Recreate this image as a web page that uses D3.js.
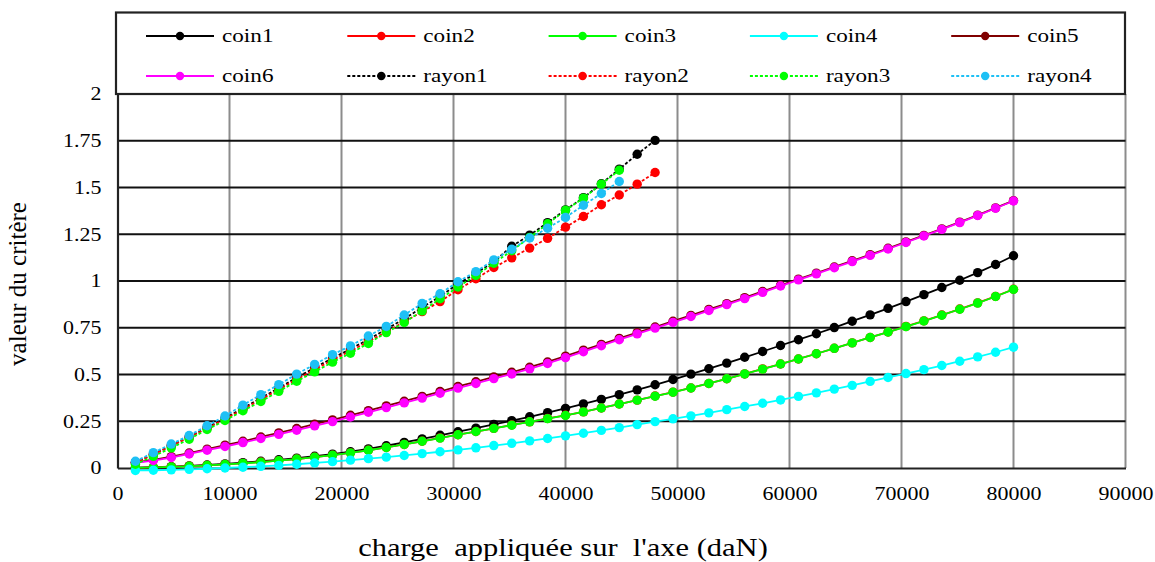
<!DOCTYPE html>
<html><head><meta charset="utf-8">
<script src="https://cdn.jsdelivr.net/npm/d3@7"></script>
<style>
html,body{margin:0;padding:0;background:#fff;}
svg{display:block;}
text{font-family:"Liberation Serif","Times New Roman",serif;fill:#000;}
</style></head>
<body>
<svg id="c" width="1155" height="562"></svg>
<script>
// ---------- data ----------
const xCoin = [1600,3200,4800,6400,8000,9600,11200,12800,14400,16000,17600,19200,20800,22400,24000,25600,27200,28800,30400,32000,33600,35200,36800,38400,40000,41600,43200,44800,46400,48000,49600,51200,52800,54400,56000,57600,59200,60800,62400,64000,65600,67200,68800,70400,72000,73600,75200,76800,78400,80000];
const xRayon = [1600,3200,4800,6400,8000,9600,11200,12800,14400,16000,17600,19200,20800,22400,24000,25600,27200,28800,30400,32000,33600,35200,36800,38400,40000,41600,43200,44800,46400,48000];

const coin1 = [0.002,0.004,0.007,0.011,0.016,0.022,0.029,0.036,0.044,0.053,0.063,0.074,0.087,0.102,0.119,0.137,0.156,0.175,0.194,0.213,0.233,0.253,0.274,0.296,0.319,0.343,0.367,0.392,0.418,0.445,0.473,0.502,0.531,0.561,0.592,0.623,0.655,0.686,0.718,0.751,0.785,0.819,0.854,0.890,0.927,0.965,1.004,1.045,1.088,1.135];
const coin2 = [0.001,0.003,0.006,0.010,0.014,0.019,0.025,0.032,0.039,0.048,0.058,0.069,0.081,0.095,0.110,0.126,0.143,0.161,0.178,0.195,0.212,0.230,0.247,0.265,0.282,0.300,0.321,0.342,0.363,0.385,0.406,0.428,0.452,0.477,0.503,0.530,0.556,0.583,0.611,0.640,0.669,0.698,0.727,0.757,0.787,0.818,0.850,0.883,0.918,0.956];
const coin3 = [0.001,0.003,0.006,0.009,0.014,0.019,0.025,0.031,0.039,0.048,0.058,0.069,0.081,0.095,0.110,0.126,0.143,0.160,0.178,0.195,0.212,0.229,0.247,0.264,0.281,0.300,0.321,0.342,0.363,0.384,0.405,0.428,0.452,0.477,0.503,0.529,0.556,0.583,0.611,0.640,0.669,0.698,0.727,0.756,0.786,0.817,0.849,0.882,0.917,0.955];
const coin4 = [-0.013,-0.012,-0.010,-0.007,-0.004,0.000,0.004,0.009,0.014,0.020,0.027,0.034,0.042,0.050,0.058,0.067,0.077,0.087,0.097,0.108,0.120,0.132,0.145,0.158,0.172,0.186,0.201,0.216,0.232,0.248,0.263,0.279,0.295,0.312,0.329,0.346,0.364,0.383,0.402,0.422,0.442,0.463,0.484,0.505,0.526,0.548,0.571,0.594,0.619,0.646];
const coin5 = [0.030,0.044,0.061,0.080,0.101,0.122,0.143,0.166,0.188,0.211,0.234,0.257,0.282,0.307,0.332,0.357,0.383,0.409,0.436,0.461,0.487,0.512,0.539,0.567,0.598,0.630,0.661,0.693,0.724,0.754,0.785,0.816,0.848,0.879,0.911,0.944,0.977,1.010,1.042,1.075,1.108,1.141,1.175,1.209,1.244,1.279,1.315,1.352,1.391,1.430];
const coin6 = [0.027,0.040,0.056,0.075,0.095,0.115,0.136,0.158,0.180,0.202,0.225,0.248,0.273,0.298,0.323,0.348,0.374,0.400,0.427,0.452,0.478,0.503,0.530,0.559,0.590,0.622,0.654,0.686,0.717,0.748,0.779,0.810,0.842,0.874,0.906,0.939,0.973,1.006,1.038,1.071,1.104,1.137,1.171,1.206,1.241,1.276,1.312,1.350,1.389,1.428];
const rayon1 = [0.030,0.074,0.120,0.166,0.216,0.266,0.320,0.374,0.428,0.484,0.536,0.588,0.636,0.688,0.742,0.798,0.858,0.918,0.984,1.042,1.102,1.186,1.245,1.312,1.380,1.446,1.520,1.598,1.678,1.752];
const rayon2 = [0.028,0.072,0.118,0.164,0.212,0.262,0.314,0.366,0.420,0.474,0.526,0.578,0.626,0.676,0.728,0.782,0.836,0.890,0.953,1.012,1.072,1.124,1.176,1.228,1.288,1.345,1.408,1.460,1.518,1.580];
const rayon3 = [0.020,0.062,0.108,0.154,0.206,0.254,0.306,0.356,0.410,0.464,0.514,0.566,0.614,0.666,0.724,0.778,0.840,0.905,0.968,1.030,1.095,1.162,1.233,1.306,1.378,1.443,1.518,1.592];
const rayon4 = [0.036,0.082,0.128,0.174,0.226,0.278,0.336,0.392,0.446,0.502,0.554,0.606,0.653,0.706,0.757,0.818,0.880,0.932,0.996,1.050,1.113,1.170,1.230,1.282,1.340,1.405,1.468,1.532];

const seriesNames = ["coin1","coin2","coin3","coin4","coin5","coin6","rayon1","rayon2","rayon3","rayon4"];
const seriesColors = ["#000000","#ff0000","#00ff00","#00ffff","#800000","#ff00ff","#000000","#ff0000","#00ff00","#1ec0f5"];
const xTicks = [0,10000,20000,30000,40000,50000,60000,70000,80000,90000];
const yTicks = [0,0.25,0.5,0.75,1,1.25,1.5,1.75,2];
const xTitle = "charge  appliquée sur  l'axe (daN)";
const yTitle = "valeur du critère";

// ---------- layout ----------
const svg = d3.select("#c");
const L = 117.5, R = 1125.5, T = 94, B = 468;
const x = d3.scaleLinear().domain([0, 90000]).range([L, R]);
const y = d3.scaleLinear().domain([0, 2]).range([B, T]);
const SX = 1.22;

// vertical grid
svg.append("g").selectAll("line").data(xTicks.slice(1)).join("line")
  .attr("x1", d => x(d)).attr("x2", d => x(d)).attr("y1", T).attr("y2", B)
  .attr("stroke", "#8c8c8c").attr("stroke-width", 2);
// horizontal grid
svg.append("g").selectAll("line").data(yTicks.slice(1)).join("line")
  .attr("x1", L).attr("x2", R).attr("y1", d => y(d)).attr("y2", d => y(d))
  .attr("stroke", "#111").attr("stroke-width", 2);

// axes
const xAxis = svg.append("g").attr("transform", `translate(0,${B})`)
  .call(d3.axisBottom(x).tickValues(xTicks).tickFormat(d3.format("d")).tickSize(0).tickPadding(0));
xAxis.select(".domain").attr("stroke", "#222").attr("stroke-width", 2.2);
xAxis.selectAll("text").attr("y", 0).attr("dy", 0)
  .attr("transform", `translate(0,32) scale(${SX},1)`)
  .style("font-size", "18px").style("font-family", "Liberation Serif");

const yAxis = svg.append("g").attr("transform", `translate(${L},0)`)
  .call(d3.axisLeft(y).tickValues(yTicks).tickFormat(d => String(d)).tickSize(0).tickPadding(0));
yAxis.select(".domain").attr("stroke", "#222").attr("stroke-width", 2.2);
yAxis.selectAll("text").attr("x", 0).attr("dy", "0.32em")
  .attr("transform", `translate(-16,0) scale(${SX},1)`)
  .style("font-size", "18px").style("font-family", "Liberation Serif");

// series
const allSeries = [
  {x: xCoin, v: coin1, dash: null},
  {x: xCoin, v: coin2, dash: null},
  {x: xCoin, v: coin3, dash: null},
  {x: xCoin, v: coin4, dash: null},
  {x: xCoin, v: coin5, dash: null},
  {x: xCoin, v: coin6, dash: null},
  {x: xRayon, v: rayon1, dash: "3,2"},
  {x: xRayon, v: rayon2, dash: "3,2"},
  {x: xRayon, v: rayon3, dash: "3,2"},
  {x: xRayon, v: rayon4, dash: "3,2"}
];
const line = d3.line().x(d => x(d[0])).y(d => y(d[1]));
allSeries.forEach((s, i) => {
  const pts = s.v.map((v, k) => [s.x[k], v]);
  const g = svg.append("g");
  g.append("path").datum(pts).attr("d", line).attr("fill", "none")
    .attr("stroke", seriesColors[i]).attr("stroke-width", 1.8)
    .attr("stroke-dasharray", s.dash);
  g.selectAll("circle").data(pts).join("circle")
    .attr("cx", d => x(d[0])).attr("cy", d => y(d[1])).attr("r", 4.7)
    .attr("fill", seriesColors[i]);
});

// legend box
svg.append("rect").attr("x", 116).attr("y", 12.5).attr("width", 1009).attr("height", 81.5)
  .attr("fill", "#fff").attr("stroke", "#222").attr("stroke-width", 2.2);
seriesNames.forEach((name, i) => {
  const col = i % 5, row = Math.floor(i / 5);
  const x0 = 146 + col * 201.3, yy = row === 0 ? 36 : 76;
  const g = svg.append("g");
  g.append("line").attr("x1", x0).attr("x2", x0 + 68).attr("y1", yy).attr("y2", yy)
    .attr("stroke", seriesColors[i]).attr("stroke-width", 1.8)
    .attr("stroke-dasharray", i >= 6 ? "3,2" : null);
  g.append("circle").attr("cx", x0 + 34).attr("cy", yy).attr("r", 4.2).attr("fill", seriesColors[i]);
  g.append("text").attr("transform", `translate(${x0 + 76},${yy + 6}) scale(${SX},1)`)
    .style("font-size", "19px").text(name);
});

// titles
svg.append("text").attr("transform", `translate(563,556) scale(${SX},1)`)
  .attr("text-anchor", "middle").style("font-size", "25px").style("white-space", "pre")
  .attr("xml:space", "preserve").text(xTitle);
svg.append("text").attr("transform", "translate(26,284) rotate(-90)")
  .attr("text-anchor", "middle").style("font-size", "25px").text(yTitle);
</script>
</body></html>
